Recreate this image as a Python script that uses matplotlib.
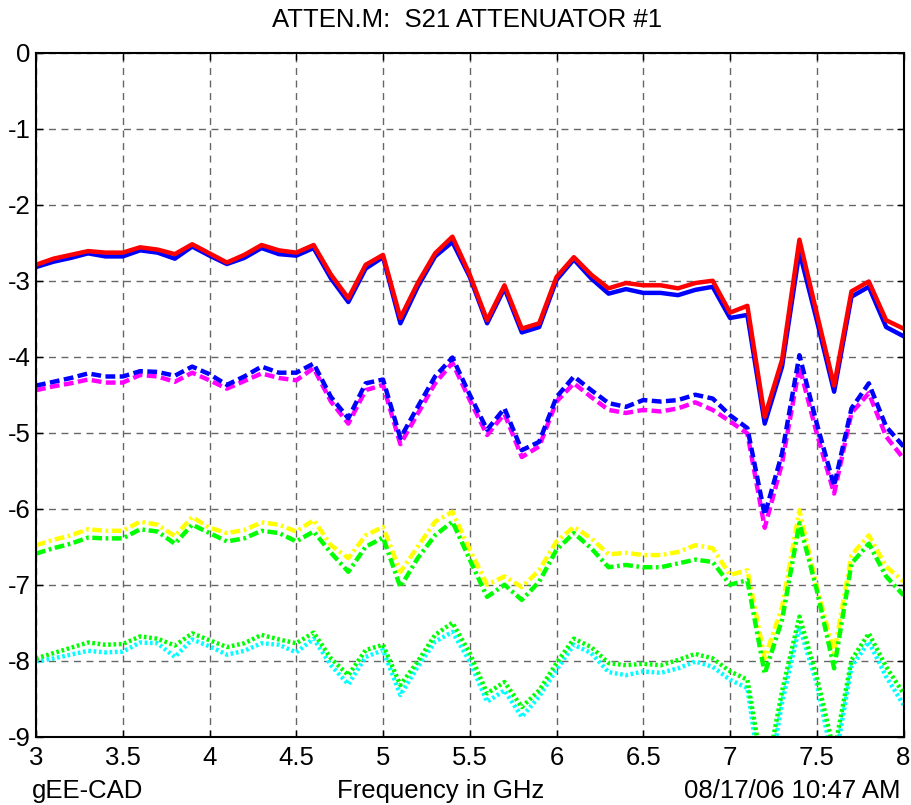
import numpy as np
import matplotlib
matplotlib.use('Agg')
import matplotlib.pyplot as plt

plt.rcParams['font.family'] = ['Liberation Sans', 'DejaVu Sans']
plt.rcParams['axes.unicode_minus'] = False  # plain hyphen for negative ticks

# frequency points, 3 to 8 GHz in 0.1 GHz steps
freq = [3.0, 3.1, 3.2, 3.3, 3.4, 3.5, 3.6, 3.7, 3.8, 3.9,
        4.0, 4.1, 4.2, 4.3, 4.4, 4.5, 4.6, 4.7, 4.8, 4.9,
        5.0, 5.1, 5.2, 5.3, 5.4, 5.5, 5.6, 5.7, 5.8, 5.9,
        6.0, 6.1, 6.2, 6.3, 6.4, 6.5, 6.6, 6.7, 6.8, 6.9,
        7.0, 7.1, 7.2, 7.3, 7.4, 7.5, 7.6, 7.7, 7.8, 7.9, 8.0]

# S21 in dB for each attenuator setting
s21_blue = [-2.82, -2.75, -2.70, -2.64, -2.68, -2.68, -2.60, -2.63, -2.71, -2.55,
            -2.67, -2.78, -2.70, -2.57, -2.65, -2.67, -2.57, -2.97, -3.28, -2.84,
            -2.69, -3.56, -3.08, -2.68, -2.49, -2.95, -3.56, -3.10, -3.68, -3.61,
            -2.99, -2.72, -2.97, -3.17, -3.11, -3.16, -3.16, -3.19, -3.12, -3.08,
            -3.49, -3.45, -4.88, -4.13, -2.62, -3.52, -4.46, -3.21, -3.08, -3.61, -3.73]
s21_red = [-2.79, -2.71, -2.66, -2.61, -2.63, -2.63, -2.56, -2.59, -2.65, -2.52,
           -2.64, -2.76, -2.66, -2.53, -2.60, -2.63, -2.53, -2.92, -3.23, -2.79,
           -2.66, -3.49, -3.03, -2.64, -2.42, -2.92, -3.52, -3.06, -3.63, -3.56,
           -2.95, -2.69, -2.92, -3.10, -3.03, -3.06, -3.06, -3.10, -3.03, -3.00,
           -3.42, -3.33, -4.79, -4.04, -2.46, -3.43, -4.38, -3.14, -3.01, -3.52, -3.63]
s21_magenta = [-4.44, -4.39, -4.35, -4.30, -4.34, -4.34, -4.24, -4.26, -4.33, -4.21,
               -4.31, -4.42, -4.32, -4.22, -4.28, -4.31, -4.15, -4.59, -4.88, -4.44,
               -4.37, -5.15, -4.75, -4.35, -4.08, -4.57, -5.03, -4.75, -5.32, -5.18,
               -4.59, -4.35, -4.53, -4.70, -4.74, -4.70, -4.72, -4.68, -4.60, -4.70,
               -4.85, -5.01, -6.25, -5.40, -4.13, -5.01, -5.80, -4.74, -4.48, -5.05, -5.34]
s21_blue_dash = [-4.38, -4.33, -4.28, -4.22, -4.26, -4.26, -4.19, -4.20, -4.25, -4.13,
                 -4.23, -4.37, -4.26, -4.13, -4.21, -4.21, -4.09, -4.53, -4.81, -4.35,
                 -4.30, -5.07, -4.66, -4.26, -4.01, -4.50, -4.96, -4.68, -5.23, -5.12,
                 -4.53, -4.26, -4.44, -4.61, -4.66, -4.57, -4.59, -4.57, -4.50, -4.55,
                 -4.77, -4.94, -6.08, -5.27, -3.98, -4.88, -5.70, -4.68, -4.35, -4.92, -5.18]
s21_yellow = [-6.48, -6.41, -6.35, -6.27, -6.29, -6.29, -6.17, -6.21, -6.36, -6.11,
              -6.25, -6.32, -6.28, -6.18, -6.21, -6.30, -6.15, -6.48, -6.65, -6.35,
              -6.24, -6.83, -6.50, -6.17, -6.04, -6.54, -7.00, -6.89, -7.03, -6.81,
              -6.43, -6.24, -6.39, -6.60, -6.58, -6.61, -6.61, -6.57, -6.48, -6.52,
              -6.87, -6.81, -7.97, -7.29, -6.02, -7.03, -7.90, -6.61, -6.35, -6.76, -6.96]
s21_green_dashdot = [-6.59, -6.52, -6.46, -6.38, -6.39, -6.39, -6.27, -6.30, -6.46, -6.21,
                     -6.32, -6.43, -6.39, -6.29, -6.32, -6.43, -6.30, -6.58, -6.83, -6.50,
                     -6.38, -7.03, -6.65, -6.35, -6.17, -6.67, -7.16, -7.00, -7.20, -6.96,
                     -6.54, -6.32, -6.52, -6.77, -6.74, -6.77, -6.77, -6.72, -6.67, -6.70,
                     -7.00, -6.94, -8.17, -7.46, -6.19, -7.07, -8.10, -6.72, -6.46, -6.89, -7.14]
s21_cyan = [-8.01, -7.97, -7.92, -7.87, -7.89, -7.88, -7.76, -7.77, -7.95, -7.72,
            -7.81, -7.92, -7.87, -7.77, -7.79, -7.89, -7.71, -8.06, -8.31, -7.95,
            -7.86, -8.45, -8.08, -7.75, -7.62, -8.01, -8.54, -8.39, -8.74, -8.47,
            -8.12, -7.79, -7.90, -8.15, -8.19, -8.14, -8.16, -8.10, -8.01, -8.08,
            -8.25, -8.36, -9.90, -8.55, -7.55, -8.30, -9.40, -8.08, -7.75, -8.21, -8.58]
s21_green_dot = [-7.97, -7.90, -7.83, -7.76, -7.79, -7.78, -7.68, -7.71, -7.80, -7.64,
                 -7.73, -7.82, -7.77, -7.66, -7.72, -7.77, -7.63, -7.97, -8.19, -7.86,
                 -7.79, -8.32, -8.01, -7.66, -7.50, -7.90, -8.43, -8.28, -8.61, -8.39,
                 -8.03, -7.71, -7.82, -8.03, -8.06, -8.04, -8.06, -7.99, -7.91, -7.97,
                 -8.14, -8.25, -9.60, -8.40, -7.42, -8.21, -9.20, -7.99, -7.64, -8.08, -8.43]

xticks = [3, 3.5, 4, 4.5, 5, 5.5, 6, 6.5, 7, 7.5, 8]
xtick_labels = ['3', '3.5', '4', '4.5', '5', '5.5', '6', '6.5', '7', '7.5', '8']
yticks = [0, -1, -2, -3, -4, -5, -6, -7, -8, -9]

fig = plt.figure(figsize=(9.12, 8.05), dpi=100)
ax = fig.add_axes([0.0395, 0.0848, 0.9512, 0.8497])

lw = 3.2
dash = (2.2, 1.0)
dashdot = (2.2, 0.8, 0.6, 0.8)
dot = (0.6, 0.6)

ax.plot(freq, s21_blue, color='#0000ff', lw=lw)
ax.plot(freq, s21_red, color='#ff0000', lw=lw)
ax.plot(freq, s21_magenta, color='#ff00ff', lw=lw, dashes=dash)
ax.plot(freq, s21_blue_dash, color='#0000ff', lw=lw, dashes=dash)
ax.plot(freq, s21_yellow, color='#ffff00', lw=lw, dashes=dashdot)
ax.plot(freq, s21_green_dashdot, color='#00ff00', lw=lw, dashes=dashdot)
ax.plot(freq, s21_cyan, color='#00ffff', lw=lw, dashes=dot)
ax.plot(freq, s21_green_dot, color='#00ff00', lw=lw, dashes=dot)

ax.set_xlim(3, 8)
ax.set_ylim(-9, 0)
ax.set_xticks(xticks)
ax.set_xticklabels(xtick_labels)
ax.set_yticks(yticks)

# matlab style dashed grid and inward ticks on every side
ax.grid(True, color='#666666', linestyle=(0, (5, 4)), linewidth=1.0)
ax.tick_params(direction='in', length=5, width=1, top=True, right=True,
               labelsize=18.5, colors='black')
ax.tick_params(axis='x', pad=7)
ax.tick_params(axis='y', pad=4)
for s in ax.spines.values():
    s.set_linewidth(1.5)
    s.set_color('black')

fs = 18.5
fig.text(0.512, 0.975, 'ATTEN.M:  S21 ATTENUATOR #1', ha='center', va='center', fontsize=fs)
fig.text(0.035, 0.0174, 'gEE-CAD', ha='left', va='center', fontsize=fs)
fig.text(0.4836, 0.0174, 'Frequency in GHz', ha='center', va='center', fontsize=fs)
fig.text(0.987, 0.0174, '08/17/06 10:47 AM', ha='right', va='center', fontsize=fs)

fig.savefig('out.png', dpi=100)
